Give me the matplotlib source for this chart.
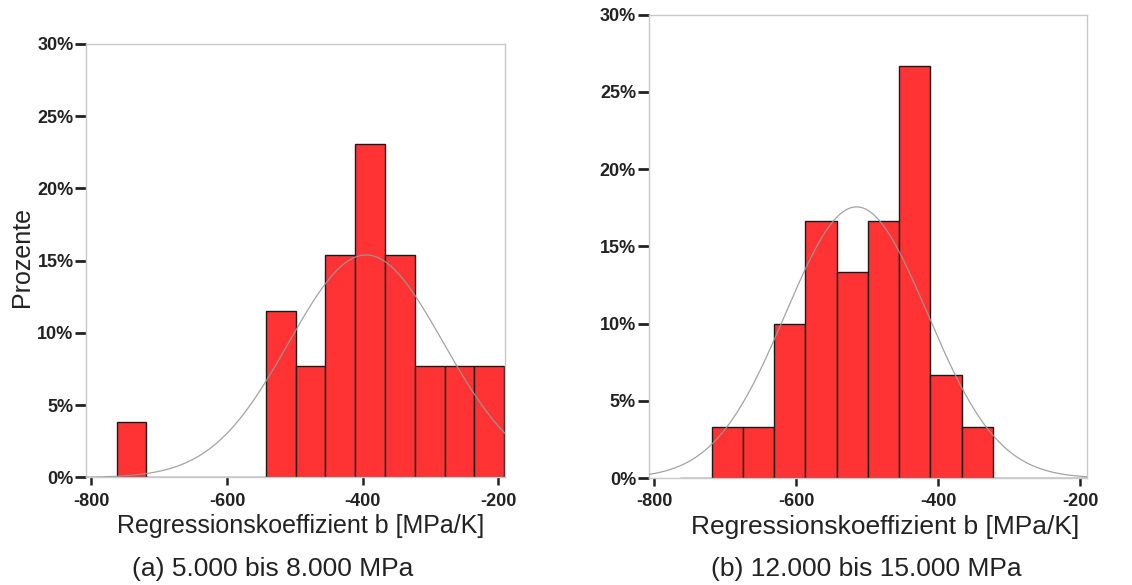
import numpy as np
import matplotlib as mpl
import matplotlib.pyplot as plt
from matplotlib.ticker import FixedLocator, FuncFormatter

mpl.use("agg")
plt.rcParams["font.family"] = ["Liberation Sans", "DejaVu Sans"]
plt.rcParams["axes.unicode_minus"] = False

# shared bin edges of both histograms (MPa/K)
bin_edges = [-763, -719, -675, -631, -587, -543, -499, -455, -411,
             -367, -323, -279, -235, -191]

# (a) 5.000 bis 8.000 MPa, 26 values, share per bin in %
pct_a = [3.85, 0, 0, 0, 0, 11.54, 7.69, 15.38, 23.08, 15.38, 7.69, 7.69, 7.69]
# (b) 12.000 bis 15.000 MPa, 30 values
pct_b = [0, 3.33, 3.33, 10.0, 16.67, 13.33, 16.67, 26.67, 6.67, 3.33, 0, 0, 0]

# fitted normal curves (mean, sd)
fit_a = (-395, 114)
fit_b = (-515, 100)

x_ticks = [-800, -600, -400, -200]
y_ticks = [0, 5, 10, 15, 20, 25, 30]
captions = ["(a) 5.000 bis 8.000 MPa", "(b) 12.000 bis 15.000 MPa"]
x_title = "Regressionskoeffizient b [MPa/K]"

BAR_RED = "#ff3333"
FRAME = "#c8c8c8"
INK = "#222222"

fig = plt.figure(figsize=(11.32, 5.85), dpi=100)
ax_a = fig.add_axes([0.0760, 0.1838, 0.3701, 0.7410])
ax_b = fig.add_axes([0.5729, 0.1826, 0.3876, 0.7926])


def draw_panel(ax, pct, fit):
    edges = np.array(bin_edges, dtype=float)
    widths = np.diff(edges)
    ax.bar(edges[:-1], pct, width=widths, align="edge", color=BAR_RED,
           edgecolor="#1a1a1a", linewidth=1.0, zorder=2)

    # normal curve scaled to percent per bin
    mu, sd = fit
    xs = np.linspace(-808, -190, 400)
    ys = 100 * widths[0] / (sd * np.sqrt(2 * np.pi)) * np.exp(-0.5 * ((xs - mu) / sd) ** 2)
    ax.plot(xs, ys, color="#999999", linewidth=0.9, alpha=0.9, zorder=3)

    ax.set_xlim(-808, -190)
    ax.set_ylim(0, 30)
    ax.xaxis.set_major_locator(FixedLocator(x_ticks))
    ax.yaxis.set_major_locator(FixedLocator(y_ticks))
    ax.yaxis.set_major_formatter(FuncFormatter(lambda v, p: f"{v:.0f}%"))
    for s in ax.spines.values():
        s.set_color(FRAME)
        s.set_linewidth(1.0)
    ax.tick_params(axis="x", direction="out", length=6, width=1.8,
                   color=INK, pad=5, labelsize=13)
    ax.tick_params(axis="y", direction="out", length=8, width=2.0,
                   color=INK, pad=1, labelsize=13)
    for lab in ax.get_xticklabels() + ax.get_yticklabels():
        lab.set_fontweight("bold")
        lab.set_color(INK)


draw_panel(ax_a, pct_a, fit_a)
draw_panel(ax_b, pct_b, fit_b)

fig.text(0.019, 0.560, "Prozente", rotation=90, ha="center", va="center",
         fontsize=18, color=INK)
fig.text(0.2659, 0.100, x_title, ha="center", va="center", fontsize=18,
         color=INK)
fig.text(0.7818, 0.099, x_title, ha="center", va="center", fontsize=19,
         color=INK)
fig.text(0.2412, 0.027, captions[0], ha="center", va="center", fontsize=19,
         color=INK)
fig.text(0.765, 0.027, captions[1], ha="center", va="center", fontsize=19,
         color=INK)

fig.savefig("out.png", dpi=100)
